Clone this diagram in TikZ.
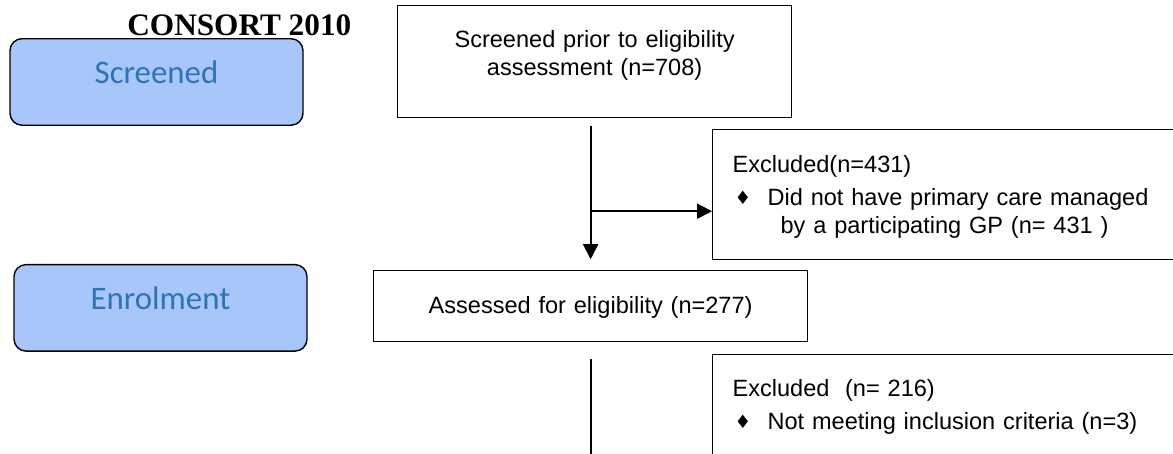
\documentclass[tikz,border=0pt]{standalone}
\usepackage{fontspec}
\setmainfont{Liberation Sans}
\newfontfamily\titlefont{Liberation Serif}
\newfontfamily\stagefont{Carlito}
\newfontfamily\symfont{DejaVu Sans}
\usetikzlibrary{positioning, arrows.meta}
\definecolor{stageblue}{HTML}{A9C6FA}
\definecolor{stagetext}{HTML}{2E74B5}
\newcommand{\diamondbullet}{\makebox[0.7cm][l]{\hspace*{0.04cm}\raisebox{0.02cm}{\symfont\fontsize{10.5}{12}\selectfont\char"2666}}}

\begin{document}
\begin{tikzpicture}[
    stage/.style={rectangle, draw, line width=0.8pt, fill=stageblue, rounded corners=0.24cm, minimum width=5.86cm, inner ysep=0pt, text height=0.9cm, text depth=0.83cm, text=stagetext, font=\stagefont\fontsize{18.7}{22}\selectfont},
    flowbox/.style={rectangle, draw, line width=0.7pt, inner xsep=0pt, inner ysep=0pt, align=center, font=\fontsize{13.4}{15.9}\selectfont},
    exclbox/.style={flowbox, inner xsep=0.4cm, text width=8.96cm, align=left},
    flow/.style={line width=1.1pt, -{Triangle[length=0.3cm, width=0.3cm]}},
]
\clip (0,0) rectangle (23.46,-9.06);

% stage labels on the left
\node [anchor=base west, inner sep=0pt, font=\titlefont\bfseries\fontsize{17.8}{20}\selectfont] (title) at (2.54,-0.70) {CONSORT 2010};
\node [stage, anchor=north] (screened) at (3.13,-0.76) {Screened};
\node [stage, below=2.76cm of screened, xshift=0.08cm] (enrol) {Enrolment};

% flow boxes
\node [flowbox, anchor=north west, text width=7.88cm, text height=0.84cm, text depth=1.4cm] (screenbox) at (7.94,-0.10) {Screened prior to eligibility\\assessment (n=708)};
\node [flowbox, below=3.04cm of screenbox, xshift=-0.08cm, text width=8.68cm, text height=0.86cm, text depth=0.56cm] (assessbox) {Assessed for eligibility (n=277)};

\node [exclbox, anchor=north west, text height=0.86cm, text depth=1.74cm] (exclone) at (14.24,-2.58) {Excluded(n=431)\\[0.1cm]
\diamondbullet Did not have primary care managed\\
\hspace*{0.96cm}by a participating GP (n= 431 )};
\node [exclbox, below=1.88cm of exclone, text height=0.84cm, text depth=1.5cm] (excltwo) {Excluded\ \ (n= 216)\\[0.1cm]
\diamondbullet Not meeting inclusion criteria (n=3)};

% connectors
\coordinate (branch) at ([yshift=-1.86cm]screenbox.south -| assessbox.north);
\coordinate (assessout) at (assessbox.south |- 0,-9.4);
\draw [flow, shorten <=0.16cm, shorten >=0.22cm] (screenbox.south -| assessbox.north) -- (assessbox.north);
\draw [flow] (branch) -- (branch -| exclone.west);
\draw [line width=1.1pt, shorten <=0.34cm] (assessbox.south) -- (assessout);
\end{tikzpicture}
\end{document}
